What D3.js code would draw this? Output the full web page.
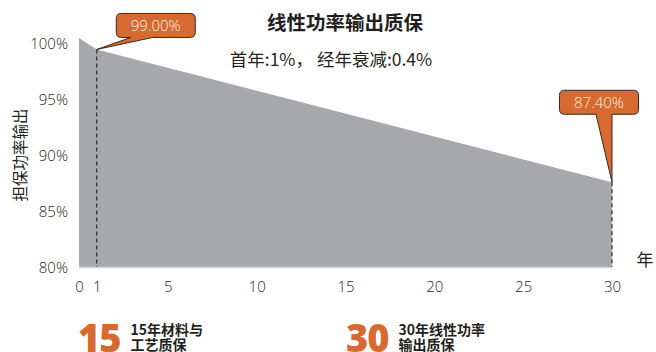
<!DOCTYPE html>
<html>
<head>
<meta charset="utf-8">
<script src="https://cdn.jsdelivr.net/npm/d3@7"></script>
<style>
  html, body { margin: 0; padding: 0; background: #fff; }
  svg { display: block; }
</style>
</head>
<body>
<svg id="chart" width="656" height="352"></svg>
<script>
// Guaranteed power output over the warranty period (year, % of nominal)
const years = [0, 1, 30];
const output = [100, 99, 87.4];

// Values called out with a label bubble
const calloutYears = [1, 30];
const calloutValues = [99, 87.4];

// Axis ticks
const xTicks = [0, 1, 5, 10, 15, 20, 25, 30];
const yTicks = [80, 85, 90, 95, 100];

// Text blocks
const titleText = "线性功率输出质保";
const subtitleText = "首年:1%，  经年衰减:0.4%";
const yTitle = "担保功率输出";
const xUnit = "年";
const badgeNumbers = ["15", "30"];
const badgeLines = [["15年材料与", "工艺质保"], ["30年线性功率", "输出质保"]];

const W = 656, H = 352;
const ORANGE = "#d76a30";
const GREY = "#a7a8ab";
const INK = "#231f20";
const CJK = "'Noto Sans CJK SC', 'Noto Sans', sans-serif";
const NUM = "'Open Sans', 'Noto Sans', sans-serif";

const svg = d3.select("#chart");

const x = d3.scaleLinear().domain([0, 30]).range([79, 612]);
const y = d3.scaleLinear().domain([80, 100]).range([267, 38]);
// tick labels sit on a slightly tighter spacing than the plotted band
const yLab = d3.scaleLinear().domain([80, 100]).range([267, 43]);

const pts = years.map((yr, i) => ({ yr, v: output[i] }));

// shaded output band
const area = d3.area()
  .x(d => x(d.yr))
  .y0(y(80))
  .y1(d => y(d.v));
svg.append("path")
  .datum(pts)
  .attr("d", area)
  .attr("fill", GREY);

svg.append("line")
  .attr("x1", x(0)).attr("x2", x(30))
  .attr("y1", y(80) + 0.5).attr("y2", y(80) + 0.5)
  .attr("stroke", "#cfd0d2").attr("stroke-width", 1.5);

// y axis labels
const yAxis = d3.axisLeft(yLab).tickValues(yTicks).tickFormat(d => d + "%").tickSize(0).tickPadding(0);
const gy = svg.append("g").attr("transform", "translate(68,0)").call(yAxis);
gy.select(".domain").remove();
gy.selectAll("text")
  .attr("font-family", NUM).attr("font-weight", 300).attr("font-size", 15)
  .attr("fill", INK).attr("dy", "0.35em");

// x axis labels
const xAxis = d3.axisBottom(x).tickValues(xTicks).tickFormat(d3.format("d")).tickSize(0).tickPadding(0);
const gx = svg.append("g").attr("transform", "translate(0,287)").call(xAxis);
gx.select(".domain").remove();
gx.selectAll("text")
  .attr("font-family", NUM).attr("font-weight", 300).attr("font-size", 15)
  .attr("fill", INK).attr("dy", "0.35em");

// unit label for the x axis
svg.append("text")
  .attr("x", 645).attr("y", 260).attr("dy", "0.35em")
  .attr("text-anchor", "middle")
  .attr("font-family", CJK).attr("font-size", 17).attr("fill", INK)
  .text(xUnit);

// y axis title
svg.append("text")
  .attr("transform", "translate(21,155) rotate(-90)")
  .attr("text-anchor", "middle").attr("dy", "0.35em")
  .attr("font-family", CJK).attr("font-size", 15.5).attr("fill", INK)
  .text(yTitle);

// title and subtitle
svg.append("text")
  .attr("x", 345).attr("y", 23).attr("dy", "0.35em")
  .attr("text-anchor", "middle")
  .attr("font-family", CJK).attr("font-weight", 700).attr("font-size", 19.5).attr("fill", INK)
  .text(titleText);
svg.append("text")
  .attr("x", 331).attr("y", 60).attr("dy", "0.35em")
  .attr("text-anchor", "middle")
  .attr("font-family", CJK).attr("font-size", 17.5).attr("fill", INK)
  .text(subtitleText);

// dashed guides down from the called-out points
calloutYears.forEach((yr, i) => {
  svg.append("line")
    .attr("x1", x(yr)).attr("x2", x(yr))
    .attr("y1", y(calloutValues[i])).attr("y2", y(80))
    .attr("stroke", "#2a2a2a").attr("stroke-width", 1.2)
    .attr("stroke-dasharray", "4,3");
});

// speech-bubble callouts: box offset from the point and tail base on the box's bottom edge
const bubbleLayout = [
  { dx: 59, dy: -24, tailL: -25, tailR: -3 },
  { dx: -13, dy: -80, tailL: -3, tailR: 13 }
];
const bw = 79, bh = 24, r = 5;
function bubblePath(px, py, cx, cy, tl, tr) {
  const l = cx - bw / 2, rt = cx + bw / 2, t = cy - bh / 2, b = cy + bh / 2;
  const a = cx + tl, c = cx + tr;
  return `M${l + r},${t} H${rt - r} Q${rt},${t} ${rt},${t + r} V${b - r} Q${rt},${b} ${rt - r},${b}` +
    ` H${c} L${px},${py} L${a},${b} H${l + r} Q${l},${b} ${l},${b - r} V${t + r} Q${l},${t} ${l + r},${t} Z`;
}
const fmt = d3.format(".2f");
calloutYears.forEach((yr, i) => {
  const px = x(yr), py = y(calloutValues[i]);
  const L = bubbleLayout[i];
  const cx = px + L.dx, cy = py + L.dy;
  svg.append("path")
    .attr("d", bubblePath(px, py, cx, cy, L.tailL, L.tailR))
    .attr("fill", ORANGE).attr("stroke", "#3a2a22").attr("stroke-width", 1)
    .attr("stroke-linejoin", "round");
  svg.append("text")
    .attr("x", cx).attr("y", cy).attr("dy", "0.35em")
    .attr("text-anchor", "middle")
    .attr("font-family", NUM).attr("font-weight", 300).attr("font-size", 15)
    .attr("fill", "#fbece2")
    .text(fmt(calloutValues[i]) + "%");
});

// warranty badges along the bottom
const badgeX = [78, 346];
badgeNumbers.forEach((num, i) => {
  const g = svg.append("g").attr("transform", `translate(${badgeX[i]},0)`);
  const big = g.append("text")
    .attr("x", 0).attr("y", 352)
    .attr("font-family", "'Open Sans', sans-serif").attr("font-weight", 800).attr("font-size", 38)
    .attr("fill", ORANGE).attr("letter-spacing", "-1")
    .text(num);
  const bwid = big.node().getComputedTextLength();
  badgeLines[i].forEach((line, j) => {
    g.append("text")
      .attr("x", bwid + 10).attr("y", 330 + j * 15).attr("dy", "0.35em")
      .attr("font-family", CJK).attr("font-weight", 700).attr("font-size", 14)
      .attr("fill", INK)
      .text(line);
  });
});
</script>
</body>
</html>
